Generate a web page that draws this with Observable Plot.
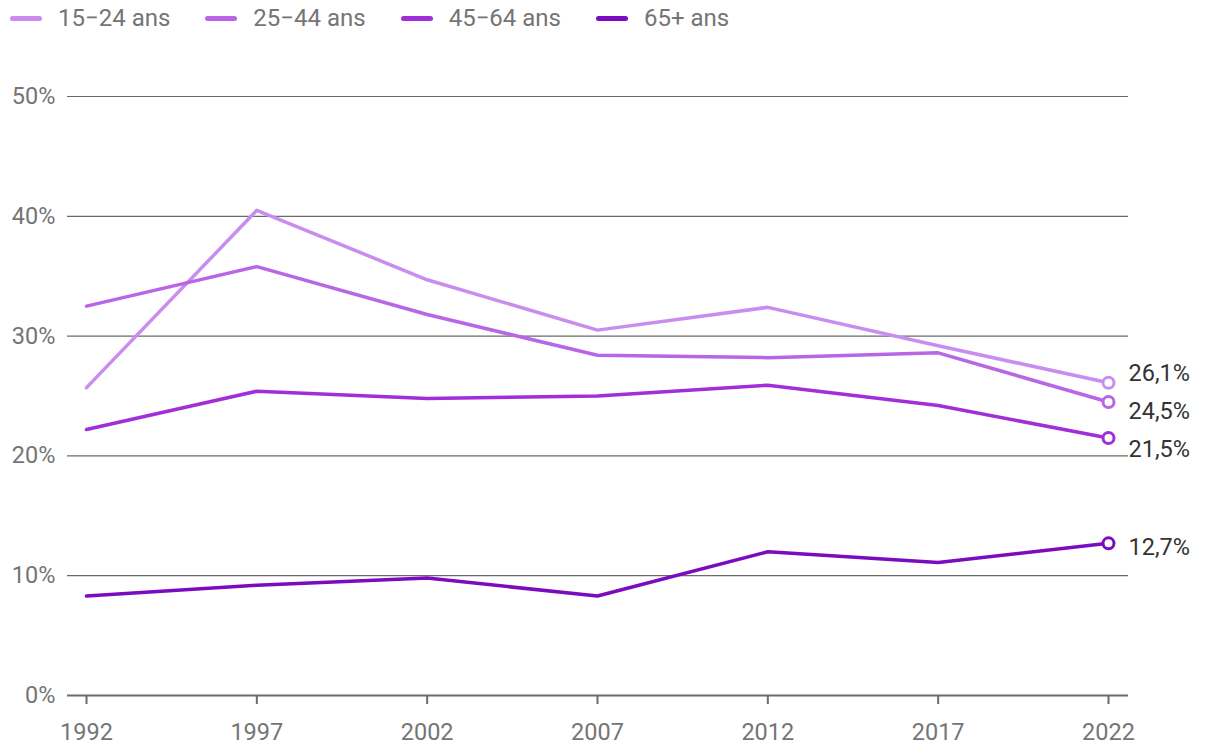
<!DOCTYPE html>
<html>
<head>
<meta charset="utf-8">
<script src="https://cdn.jsdelivr.net/npm/d3@7"></script>
<script src="https://cdn.jsdelivr.net/npm/@observablehq/plot@0.6"></script>
<style>
  body { margin: 0; background: #fff; font-family: Roboto, sans-serif; }
  #legend { display: flex; height: 36px; align-items: center; padding-left: 10px; }
  .item { display: flex; align-items: center; margin-right: 35px; font-size: 24px; color: #757575; }
  .sw { width: 32px; height: 5px; border-radius: 3px; margin-right: 16px; }
</style>
</head>
<body>
<div id="legend"></div>
<div id="chart"></div>
<script>
const years = [1992, 1997, 2002, 2007, 2012, 2017, 2022];
const seriesNames = ["15−24 ans", "25−44 ans", "45−64 ans", "65+ ans"];
const colors = ["#c98df0", "#b865e6", "#a22ed9", "#7a0bbf"];
const v15_24 = [25.7, 40.5, 34.7, 30.5, 32.4, 29.2, 26.1];
const v25_44 = [32.5, 35.8, 31.8, 28.4, 28.2, 28.6, 24.5];
const v45_64 = [22.2, 25.4, 24.8, 25.0, 25.9, 24.2, 21.5];
const v65 = [8.3, 9.2, 9.8, 8.3, 12.0, 11.1, 12.7];
const yTicks = [0, 10, 20, 30, 40, 50];

const allSeries = [v15_24, v25_44, v45_64, v65];
const data = [];
allSeries.forEach((vals, i) => vals.forEach((v, j) => data.push({series: seriesNames[i], year: years[j], value: v})));
const last = data.filter(d => d.year === years[years.length - 1]);

// simple label dodge in value units
function dodge(vals, gap) {
  const idx = vals.map((v, i) => i).sort((a, b) => vals[b] - vals[a]);
  let groups = idx.map(i => ({ids: [i], mean: vals[i]}));
  let changed = true;
  const top = g => g.mean + (g.ids.length - 1) * gap / 2;
  const bot = g => g.mean - (g.ids.length - 1) * gap / 2;
  while (changed) {
    changed = false;
    for (let k = 0; k < groups.length - 1; k++) {
      if (bot(groups[k]) - top(groups[k + 1]) < gap) {
        const ids = groups[k].ids.concat(groups[k + 1].ids);
        const mean = d3.mean(ids, i => vals[i]);
        groups.splice(k, 2, {ids, mean});
        changed = true;
        break;
      }
    }
  }
  const out = vals.slice();
  groups.forEach(g => g.ids.forEach((id, n) => { out[id] = top(g) - n * gap; }));
  return out;
}
const labelY = dodge(last.map(d => d.value), 3.2);
const labels = last.map((d, i) => ({...d, ly: labelY[i], text: d3.format(".1f")(d.value).replace(".", ",") + "%"}));

const legend = document.getElementById("legend");
seriesNames.forEach((s, i) => {
  const it = document.createElement("div");
  it.className = "item";
  it.innerHTML = `<span class="sw" style="background:${colors[i]}"></span><span>${s}</span>`;
  legend.appendChild(it);
});

const plot = Plot.plot({
  width: 1220,
  height: 720,
  marginTop: 60,
  marginBottom: 61,
  marginLeft: 67,
  marginRight: 92,
  style: {fontFamily: "Roboto, sans-serif", fontSize: "23.5px", background: "#fff"},
  x: {domain: [1992, 2022], insetLeft: 19, insetRight: 20},
  y: {domain: [0, 50]},
  color: {domain: seriesNames, range: colors},
  marks: [
    Plot.ruleY(yTicks.filter(d => d > 0), {stroke: "#6b6b6b", strokeWidth: 1.2}),
    Plot.ruleY([0], {stroke: "#6b6b6b", strokeWidth: 2}),
    Plot.axisY(yTicks, {tickSize: 0, tickPadding: 12, tickFormat: d => d + "%", fill: "#757575", label: null}),
    Plot.axisX(years, {tickSize: 9, tickPadding: 19, tickFormat: d => String(d), stroke: "#6b6b6b", strokeWidth: 2, fill: "#757575", label: null}),
    Plot.line(data, {x: "year", y: "value", z: "series", stroke: "series", strokeWidth: 3.5, strokeLinejoin: "round", strokeLinecap: "round"}),
    Plot.dot(last, {x: "year", y: "value", stroke: "series", fill: "white", r: 5.5, strokeWidth: 3}),
    Plot.text(labels, {x: "year", y: "ly", text: "text", dx: 20, dy: 4, textAnchor: "start", fill: "#333", fontSize: 23.5})
  ]
});
document.getElementById("chart").appendChild(plot);
</script>
</body>
</html>
